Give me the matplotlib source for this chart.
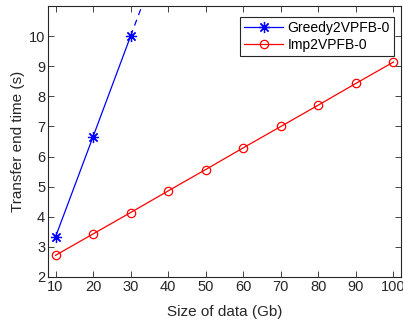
import numpy as np
import matplotlib
matplotlib.use("Agg")
import matplotlib.pyplot as plt

plt.rcParams['font.family'] = ['Liberation Sans', 'DejaVu Sans']

# data sizes (Gb) and transfer end times (s)
size_greedy = [10, 20, 30]
time_greedy = [3.33, 6.66, 10.0]
size_greedy_ext = [30, 40]
time_greedy_ext = [10.0, 13.33]

size_imp = [10, 20, 30, 40, 50, 60, 70, 80, 90, 100]
time_imp = [2.72, 3.43, 4.14, 4.86, 5.57, 6.29, 7.0, 7.71, 8.43, 9.14]

xticks = [10, 20, 30, 40, 50, 60, 70, 80, 90, 100]
yticks = [2, 3, 4, 5, 6, 7, 8, 9, 10]

fig = plt.figure(figsize=(4.03, 3.24), dpi=100)
ax = fig.add_axes([48 / 403, 1 - 277 / 324, (401 - 48) / 403, (277 - 6) / 324])

# asterisk marker like matlab '*'
ast = (8, 2, 0)
ax.plot(size_greedy, time_greedy, '-', color='#0000ff', lw=0.9, marker=ast,
        ms=8, mew=0.9, label='Greedy2VPFB-0')
ax.plot(size_greedy_ext, time_greedy_ext, '--', color='#0000ff', lw=0.9,
        dashes=(5, 4))
ax.plot(size_imp, time_imp, '-', color='#ff0000', lw=0.9, marker='o',
        ms=6, mfc='none', mew=0.9, label='Imp2VPFB-0')

ax.set_xlim(8, 102)
ax.set_ylim(2, 11)
ax.set_xticks(xticks)
ax.set_yticks(yticks)

txt = '#262626'
for s in ax.spines.values():
    s.set_color('#262626')
    s.set_linewidth(0.8)
ax.tick_params(direction='in', top=True, right=True, length=4, width=0.6,
               colors='#262626', labelsize=10.5, pad=2)
ax.set_xlabel('Size of data (Gb)', fontsize=11, color=txt, labelpad=8)
ax.set_ylabel('Transfer end time (s)', fontsize=11, color=txt, labelpad=3)

leg = ax.legend(loc='upper right', bbox_to_anchor=(0.98, 0.959), fontsize=10,
                frameon=True, fancybox=False, framealpha=1, borderpad=0.3,
                handlelength=2.8, handletextpad=0.3, labelspacing=0.2,
                borderaxespad=0)
leg.get_frame().set_edgecolor('#262626')
leg.get_frame().set_linewidth(0.8)

fig.savefig('out.png', dpi=100)
